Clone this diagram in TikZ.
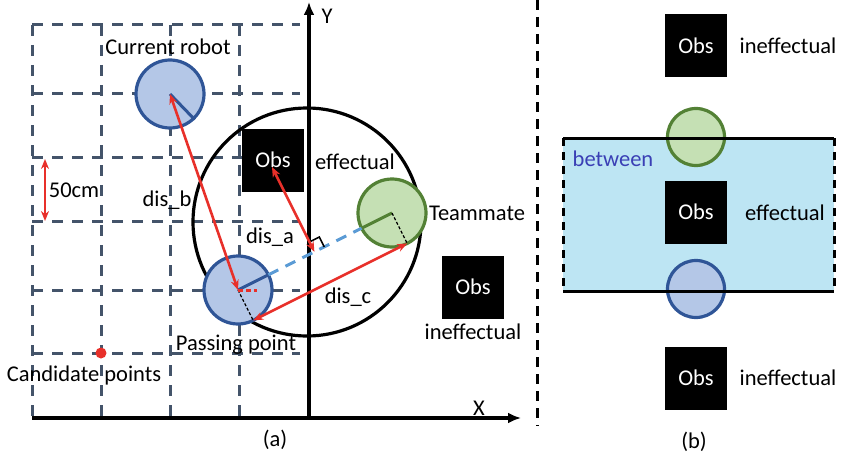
\documentclass[tikz,border=0pt]{standalone}
\usepackage{fontspec}
\setmainfont{Carlito}
\usetikzlibrary{arrows.meta,calc}
\definecolor{gridc}{HTML}{44546A}
\definecolor{robfill}{HTML}{B4C7E7}
\definecolor{robdraw}{HTML}{2F5597}
\definecolor{matefill}{HTML}{C5E0B4}
\definecolor{matedraw}{HTML}{538135}
\definecolor{redc}{HTML}{E8302A}
\definecolor{lineblue}{HTML}{5B9BD5}
\definecolor{zonefill}{HTML}{BDE5F3}
\definecolor{betweenc}{HTML}{3A3FB5}
\begin{document}
\begin{tikzpicture}[x=1pt,y=-1pt,
  every node/.style={font=\fontsize{22.5}{26}\selectfont, inner sep=0pt},
  gridline/.style={gridc, line width=3pt, dash pattern=on 11pt off 9pt},
  axisline/.style={line width=3.2pt, -{Latex[length=13pt,width=11pt]}},
  robot/.style={circle, draw=robdraw, fill=robfill, line width=3.2pt, minimum size=68pt},
  mate/.style={circle, draw=matedraw, fill=matefill, line width=3.2pt, minimum size=68pt},
  obs/.style={fill=black, text=white, minimum width=62pt, minimum height=63pt},
  dist/.style={redc, line width=2.6pt, {Stealth[length=10pt,width=8pt]}-{Stealth[length=10pt,width=8pt]}},
  ]
\useasboundingbox (0,0) rectangle (846,460);
% grid
\foreach \gx in {32,101,170,239} {\draw[gridline] (\gx,25) -- (\gx,418);}
\foreach \gy in {25,93,157,221,290,353} {\draw[gridline] (32,\gy) -- (300,\gy);}
% zone circle
\node[circle, draw, line width=3.2pt, minimum size=228pt] (zone) at (307,222) {};
% axes
\coordinate (O) at (309,418);
\coordinate (xs) at (32,418);
\coordinate (xe) at (521,418);
\coordinate (ye) at (309,2);
\draw[axisline] (xs) -- (xe);
\draw[axisline] (O) -- (ye);
\node (Ylab) at (327,16) {Y};
\node (Xlab) at (479,408) {X};
% robots
\node[robot] (cur) at (170,94) {};
\node[robot] (pass) at (238,290) {};
\node[mate] (mate) at (392,213) {};
\coordinate (pr) at ($(pass.center)!34pt!(mate.center)$);
\coordinate (mr) at ($(mate.center)!34pt!(pass.center)$);
\draw[robdraw, line width=3pt] (cur.center) -- (cur.-46);
\draw[robdraw, line width=3pt] (pass.center) -- (pr);
\draw[matedraw, line width=3pt] (mate.center) -- (mr);
\draw[lineblue, line width=3pt, dash pattern=on 11pt off 8pt] (pr) -- (mr);
\coordinate (mf) at ($(mate.center)!34pt!90:(pass.center)$);
\coordinate (pf) at ($(pass.center)!34pt!-90:(mate.center)$);
\draw[line width=1.2pt, dash pattern=on 3pt off 2pt] (mate.center) -- (mf);
\draw[line width=1.2pt, dash pattern=on 3pt off 2pt] (pass.center) -- (pf);
% obstacles
\node[obs] (obsA) at (273,160) {Obs};
\node[obs] (obsB) at (473,287) {Obs};
\coordinate (obsP) at (272,167);
\coordinate (foot) at ($(pass.center)!(obsP)!(mate.center)$);
\coordinate (m1) at ($(foot)!11pt!(obsP)$);
\coordinate (m3) at ($(foot)!11pt!(mate.center)$);
\coordinate (m2) at ($(m1)+(m3)-(foot)$);
\draw[line width=1.6pt] (m1) -- (m2) -- (m3);
% distances
\draw[dist] (obsP) -- (foot);
\draw[dist] (cur.center) -- (pass.center);
\draw[dist] (pf) -- (mf);
\coordinate (ptick) at (257,290);
\draw[redc, line width=3pt, dash pattern=on 5pt off 3pt] (pass.center) -- (ptick);
\coordinate (s1) at (45,159);
\coordinate (s2) at (45,221);
\draw[dist] (s1) -- (s2);
\node[circle, fill=redc, minimum size=11pt] (cand) at (101,353) {};
% labels
\node (lcur) at (168,47) {Current robot};
\node (lb) at (167,200) {dis\_b};
\node (l50) at (74,190) {50cm};
\node (la) at (270,237) {dis\_a};
\node (lc) at (348,297) {dis\_c};
\node (leff) at (355,162) {effectual};
\node (lmate) at (477,213) {Teammate};
\node (lineffA) at (473,332) {ineffectual};
\node (lpass) at (236,345) {Passing point};
\node (lcand) at (84,375) {Candidate points};
\node (capa) at (275,440) {(a)};
% separator
\coordinate (sep1) at (537,0);
\coordinate (sep2) at (537,426);
\draw[line width=3pt, dash pattern=on 10pt off 7pt] (sep1) -- (sep2);
% panel b
\coordinate (z1) at (563,138);
\coordinate (z2) at (834,138);
\coordinate (z3) at (834,291);
\coordinate (z4) at (563,291);
\fill[zonefill] (z1) rectangle (z3);
\node[mate, minimum size=57pt] (mateB) at (696,137) {};
\node[robot, minimum size=57pt] (passB) at (696,289) {};
\draw[line width=3pt] (z1) -- (z2);
\draw[line width=3pt] (z4) -- (z3);
\draw[line width=3pt, dash pattern=on 8pt off 6pt] (z1) -- (z4);
\draw[line width=3pt, dash pattern=on 8pt off 6pt] (z2) -- (z3);
\node[obs] (obsT) at (696,46) {Obs};
\node[obs] (obsM) at (696,212) {Obs};
\node[obs] (obsL) at (696,378) {Obs};
\node (ineffT) at (788,46) {ineffectual};
\node (effM) at (785,213) {effectual};
\node (ineffL) at (788,378) {ineffectual};
\node[text=betweenc] (betw) at (613,159) {between};
\node (capb) at (694,442) {(b)};
\end{tikzpicture}
\end{document}
